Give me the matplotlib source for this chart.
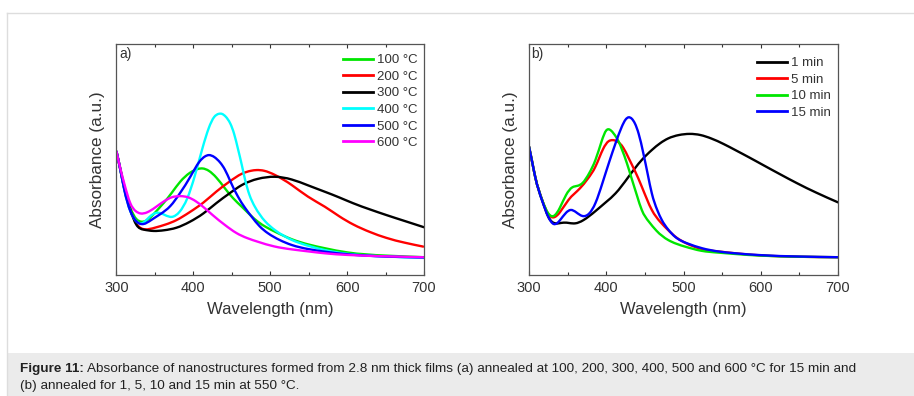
import matplotlib
matplotlib.use("Agg")
import numpy as np
import matplotlib.pyplot as plt
from matplotlib.ticker import MultipleLocator, NullLocator
from matplotlib.patches import Rectangle, PathPatch
from matplotlib.path import Path
from matplotlib.lines import Line2D

# ---------------- Panel a data (normalised absorbance, axis 0..1) ----------------
a_labels = ["100 °C", "200 °C", "300 °C", "400 °C", "500 °C", "600 °C"]
a_colors = ["#00e600", "#ff0000", "#000000", "#00ffff", "#0000ff", "#ff00ff"]

wl_100 = [300, 305, 310, 318, 326, 333, 340, 350, 361, 372, 383, 395, 406, 412, 420, 430, 441, 452, 463, 474, 484, 495, 506, 528, 550, 571, 600, 650, 700]
ab_100 = [0.533, 0.46, 0.385, 0.29, 0.24, 0.229, 0.236, 0.268, 0.309, 0.355, 0.403, 0.44, 0.458, 0.46, 0.45, 0.42, 0.374, 0.33, 0.294, 0.258, 0.229, 0.205, 0.186, 0.153, 0.13, 0.114, 0.096, 0.082, 0.075]

wl_200 = [300, 305, 310, 318, 326, 337, 350, 364, 378, 395, 413, 430, 447, 463, 475, 482, 492, 506, 528, 549, 571, 590, 608, 630, 651, 675, 699]
ab_200 = [0.533, 0.455, 0.375, 0.28, 0.22, 0.196, 0.203, 0.217, 0.236, 0.27, 0.312, 0.36, 0.403, 0.437, 0.45, 0.453, 0.45, 0.432, 0.388, 0.338, 0.294, 0.252, 0.217, 0.184, 0.159, 0.138, 0.121]

wl_300 = [300, 305, 310, 318, 326, 335, 348, 362, 378, 395, 413, 430, 447, 463, 484, 506, 528, 549, 571, 590, 608, 630, 651, 675, 700]
ab_300 = [0.533, 0.455, 0.375, 0.28, 0.215, 0.195, 0.189, 0.192, 0.203, 0.228, 0.265, 0.31, 0.352, 0.388, 0.415, 0.424, 0.412, 0.387, 0.359, 0.334, 0.309, 0.282, 0.258, 0.232, 0.205]

wl_400 = [300, 305, 310, 318, 326, 333, 343, 354, 363, 372, 382, 392, 402, 412, 420, 427, 433, 437, 442, 448, 453, 458, 463, 467, 473, 480, 493, 506, 528, 550, 571, 600, 650, 700]
ab_400 = [0.533, 0.455, 0.37, 0.275, 0.23, 0.222, 0.25, 0.268, 0.258, 0.25, 0.272, 0.33, 0.43, 0.55, 0.635, 0.683, 0.697, 0.697, 0.685, 0.655, 0.61, 0.545, 0.475, 0.415, 0.345, 0.294, 0.232, 0.193, 0.15, 0.124, 0.106, 0.09, 0.078, 0.072]

wl_500 = [300, 305, 310, 318, 326, 335, 345, 357, 370, 383, 396, 408, 415, 420, 427, 435, 441, 448, 458, 467, 476, 486, 497, 512, 528, 550, 571, 600, 650, 700]
ab_500 = [0.533, 0.455, 0.37, 0.275, 0.23, 0.219, 0.236, 0.262, 0.297, 0.355, 0.424, 0.49, 0.512, 0.518, 0.51, 0.485, 0.455, 0.405, 0.338, 0.29, 0.25, 0.21, 0.179, 0.15, 0.128, 0.11, 0.099, 0.088, 0.078, 0.074]

wl_600 = [300, 305, 310, 318, 325, 331, 340, 350, 362, 372, 383, 393, 403, 414, 425, 441, 456, 470, 484, 505, 528, 550, 571, 600, 650, 699]
ab_600 = [0.533, 0.46, 0.396, 0.309, 0.275, 0.265, 0.27, 0.29, 0.318, 0.335, 0.34, 0.335, 0.318, 0.29, 0.258, 0.215, 0.18, 0.158, 0.142, 0.122, 0.109, 0.1, 0.092, 0.085, 0.079, 0.075]

# ---------------- Panel b data ----------------
b_labels = ["1 min", "5 min", "10 min", "15 min"]
b_colors = ["#000000", "#ff0000", "#00e600", "#0000ff"]

wl_1 = [300, 304, 308, 317, 325, 334, 345, 360, 370, 386, 400, 412, 428, 446, 459, 470, 480, 494, 508, 522, 536, 552, 567, 585, 603, 625, 647, 672, 700]
ab_1 = [0.555, 0.49, 0.424, 0.323, 0.25, 0.222, 0.225, 0.222, 0.235, 0.275, 0.315, 0.352, 0.42, 0.497, 0.54, 0.57, 0.59, 0.605, 0.61, 0.605, 0.59, 0.566, 0.54, 0.508, 0.475, 0.435, 0.396, 0.355, 0.313]

wl_5 = [300, 304, 308, 317, 325, 332, 340, 351, 366, 376, 386, 396, 403, 408, 414, 422, 429, 437, 446, 459, 470, 480, 491, 502, 523, 545, 567, 600, 650, 700]
ab_5 = [0.555, 0.49, 0.424, 0.323, 0.262, 0.248, 0.27, 0.323, 0.374, 0.415, 0.468, 0.545, 0.578, 0.583, 0.578, 0.55, 0.505, 0.45, 0.381, 0.28, 0.228, 0.193, 0.16, 0.138, 0.111, 0.1, 0.092, 0.083, 0.077, 0.075]

wl_10 = [300, 304, 308, 317, 325, 332, 340, 348, 356, 363, 369, 378, 386, 394, 400, 406, 413, 416, 420, 427, 433, 440, 446, 455, 465, 480, 502, 523, 545, 567, 600, 650, 700]
ab_10 = [0.555, 0.49, 0.424, 0.323, 0.265, 0.254, 0.29, 0.345, 0.378, 0.385, 0.396, 0.44, 0.497, 0.578, 0.625, 0.625, 0.595, 0.577, 0.545, 0.48, 0.415, 0.34, 0.28, 0.23, 0.19, 0.15, 0.121, 0.103, 0.095, 0.089, 0.082, 0.077, 0.075]

wl_15 = [300, 304, 308, 317, 325, 332, 340, 348, 354, 361, 369, 378, 386, 395, 404, 412, 420, 425, 429, 433, 437, 442, 448, 454, 459, 466, 472, 480, 489, 505, 524, 545, 567, 600, 650, 700]
ab_15 = [0.555, 0.49, 0.424, 0.32, 0.25, 0.219, 0.235, 0.268, 0.28, 0.27, 0.254, 0.265, 0.31, 0.396, 0.49, 0.569, 0.64, 0.672, 0.682, 0.676, 0.656, 0.61, 0.526, 0.43, 0.352, 0.28, 0.236, 0.196, 0.164, 0.135, 0.114, 0.1, 0.092, 0.084, 0.078, 0.075]

x_ticks = [300, 400, 500, 600, 700]

caption_bold = "Figure 11:"
caption_rest = (" Absorbance of nanostructures formed from 2.8 nm thick films (a) annealed at 100, 200, 300, 400, 500 and 600 \u00b0C for 15 min and")
caption_line2 = "(b) annealed for 1, 5, 10 and 15 min at 550 \u00b0C."

plt.rcParams["font.family"] = ["Liberation Sans", "DejaVu Sans"]

W, H = 914, 396
fig = plt.figure(figsize=(W / 100, H / 100), dpi=100)


def fx(px):
    return px / W


def fy(py):
    return 1 - py / H


def smooth_path(x, y):
    """Natural cubic spline through the points, drawn as Bezier segments."""
    x = np.asarray(x, float)
    y = np.asarray(y, float)
    n = len(x)
    h = np.diff(x)
    d = np.diff(y) / h
    A = np.zeros((n, n))
    r = np.zeros(n)
    A[0, 0] = A[-1, -1] = 1.0
    for i in range(1, n - 1):
        A[i, i - 1] = h[i - 1]
        A[i, i] = 2 * (h[i - 1] + h[i])
        A[i, i + 1] = h[i]
        r[i] = 6 * (d[i] - d[i - 1])
    M = np.linalg.solve(A, r)
    m = np.zeros(n)
    m[:-1] = d - h * (2 * M[:-1] + M[1:]) / 6
    m[-1] = d[-1] + h[-1] * (M[-2] + 2 * M[-1]) / 6
    verts = [(x[0], y[0])]
    codes = [Path.MOVETO]
    for i in range(n - 1):
        verts += [(x[i] + h[i] / 3, y[i] + m[i] * h[i] / 3),
                  (x[i + 1] - h[i] / 3, y[i + 1] - m[i + 1] * h[i] / 3),
                  (x[i + 1], y[i + 1])]
        codes += [Path.CURVE4] * 3
    return Path(verts, codes)


# page frame lines
fig.add_artist(Line2D([fx(7), 1], [fy(13), fy(13)], color="#dddddd", lw=1))
fig.add_artist(Line2D([fx(7), fx(7)], [fy(13), 0], color="#dddddd", lw=1))
# caption box
fig.add_artist(Rectangle((fx(7), 0), 1 - fx(7), fy(353), color="#ebebeb", lw=0))

spine_col = "#555555"
LW = 1.7


def make_axes(left_px, right_px, xs, ys, labels, colors, tag, leg_x, leg_y):
    ax = fig.add_axes([fx(left_px), fy(274.5), (right_px - left_px) / W, 230.5 / H])
    handles = []
    for x, y, lab, c in zip(xs, ys, labels, colors):
        ax.add_patch(PathPatch(smooth_path(x, y), fill=False, edgecolor=c, lw=LW,
                               joinstyle="round", capstyle="round"))
        handles.append(Line2D([], [], color=c, lw=LW + 0.3, label=lab))
    ax.set_xlim(300, 700)
    ax.set_ylim(0, 1)
    ax.set_xticks(x_ticks)
    ax.xaxis.set_minor_locator(MultipleLocator(50))
    ax.yaxis.set_major_locator(NullLocator())
    ax.tick_params(axis="x", which="both", top=True, bottom=True, direction="in",
                   labelsize=10.5, colors="#333333", pad=5)
    ax.tick_params(axis="x", which="major", length=3, width=0.8)
    ax.tick_params(axis="x", which="minor", length=2, width=0.8)
    for s in ax.spines.values():
        s.set_color(spine_col)
        s.set_linewidth(0.9)
    ax.set_xlabel("Wavelength (nm)", fontsize=12, color="#333333", labelpad=5)
    ax.set_ylabel("Absorbance (a.u.)", fontsize=12.3, color="#333333", labelpad=8)
    ax.text(0.008, 0.985, tag, transform=ax.transAxes, ha="left", va="top",
            fontsize=10, color="#333333")
    leg = ax.legend(handles=handles, loc="upper left", bbox_to_anchor=(leg_x, leg_y),
                    frameon=False, fontsize=9.5, handlelength=2.3, handletextpad=0.25,
                    labelspacing=0.33, borderaxespad=0, borderpad=0)
    for t in leg.get_texts():
        t.set_color("#333333")
    return ax


make_axes(116.5, 424, [wl_100, wl_200, wl_300, wl_400, wl_500, wl_600],
          [ab_100, ab_200, ab_300, ab_400, ab_500, ab_600], a_labels, a_colors, "a)",
          0.737, 0.957)
make_axes(529, 838, [wl_1, wl_5, wl_10, wl_15], [ab_1, ab_5, ab_10, ab_15],
          b_labels, b_colors, "b)", 0.738, 0.944)

cap_size = 9.7
t1 = fig.text(fx(20), fy(369), caption_bold, fontsize=cap_size, fontweight="bold",
              color="#222222", va="center", ha="left")
fig.canvas.draw()
bb = t1.get_window_extent()
fig.text(bb.x1 / W, fy(369), caption_rest, fontsize=cap_size,
         color="#222222", va="center", ha="left")
fig.text(fx(20), fy(386), caption_line2, fontsize=cap_size,
         color="#222222", va="center", ha="left")

fig.savefig("out.png", dpi=100)
